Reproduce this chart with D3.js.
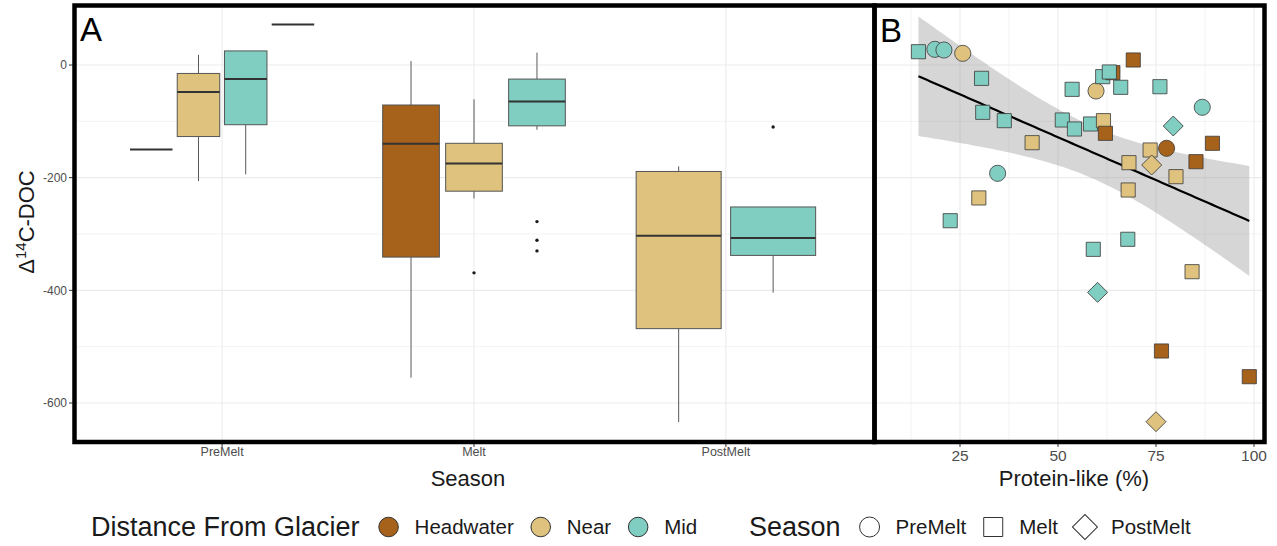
<!DOCTYPE html>
<html>
<head>
<meta charset="utf-8">
<script src="https://cdn.jsdelivr.net/npm/d3@7"></script>
<style>
  body { margin: 0; background: #fff; }
  svg { display: block; font-family: 'Liberation Sans', Arial, sans-serif; }
</style>
</head>
<body>
<svg id="chart" width="1277" height="546"></svg>
<script>
// ---- data ----
const seasons = ['PreMelt', 'Melt', 'PostMelt'];
const distances = ['Headwater', 'Near', 'Mid'];
const distColors = ['#a6611a', '#dfc27d', '#80cdc1'];

// panel A: boxplot stats
const boxSeason   = ['PreMelt', 'PreMelt', 'PreMelt', 'PreMelt', 'Melt', 'Melt', 'Melt', 'PostMelt', 'PostMelt'];
const boxDistance = ['Headwater', 'Near', 'Mid', 'NA', 'Headwater', 'Near', 'Mid', 'Near', 'Mid'];
const boxLow  = [-150, -206, -194, 72, -555, -237, -115, -634, -404];
const boxQ1   = [-150, -127, -106, 72, -341, -224, -108, -468, -338];
const boxMed  = [-150,  -48,  -25, 72, -140, -175,  -65, -303, -307];
const boxQ3   = [-150,  -15,   25, 72,  -71, -139,  -25, -189, -252];
const boxHigh = [-150,   18,   25, 72,    7,  -61,   22, -180, -252];
const outSeason   = ['Melt', 'Melt', 'Melt', 'Melt', 'PostMelt'];
const outDistance = ['Near', 'Mid', 'Mid', 'Mid', 'Mid'];
const outValue    = [-369, -278, -311, -330, -110];

// panel B: scatter
const ptProtein = [14.4, 18.6, 20.9, 25.7, 30.5, 30.8, 36.3, 43.4, 34.6, 29.8, 22.5, 51.1, 53.6, 54.2, 59.7,
                   61.4, 64.0, 63.1, 66.0, 69.2, 76.0, 58.3, 61.6, 62.1, 79.4, 86.8, 77.7, 73.5, 89.4, 85.2,
                   68.1, 73.9, 80.1, 67.9, 67.8, 59.0, 84.2, 60.1, 76.4, 98.8, 75.0];
const ptDOC     = [23.6, 27.8, 26.6, 20.7, -23.7, -84, -98.8, -137.9, -192.3, -236, -276.4, -97.6, -43.2, -113.6, -46.2,
                   -20.7, -13.6, -12.4, -39.6, 8.9, -38.5, -104.7, -98.8, -121.3, -108.3, -75.1, -147.9, -150.9, -139, -171.6,
                   -173.4, -177.5, -198.2, -221.9, -309.4, -327.2, -366.9, -403.6, -507.7, -553.3, -633.2];
const ptDistance = ['Mid', 'Mid', 'Mid', 'Near', 'Mid', 'Mid', 'Mid', 'Near', 'Mid', 'Near', 'Mid', 'Mid', 'Mid', 'Mid', 'Near',
                    'Mid', 'Headwater', 'Mid', 'Mid', 'Headwater', 'Mid', 'Mid', 'Near', 'Headwater', 'Mid', 'Mid', 'Headwater', 'Near', 'Headwater', 'Headwater',
                    'Near', 'Near', 'Near', 'Near', 'Mid', 'Mid', 'Near', 'Mid', 'Headwater', 'Headwater', 'Near'];
const ptSeason  = ['Melt', 'PreMelt', 'PreMelt', 'PreMelt', 'Melt', 'Melt', 'Melt', 'Melt', 'PreMelt', 'Melt', 'Melt', 'Melt', 'Melt', 'Melt', 'PreMelt',
                   'Melt', 'Melt', 'Melt', 'Melt', 'Melt', 'Melt', 'Melt', 'Melt', 'Melt', 'PostMelt', 'PreMelt', 'PreMelt', 'Melt', 'Melt', 'Melt',
                   'Melt', 'PostMelt', 'Melt', 'Melt', 'Melt', 'Melt', 'Melt', 'PostMelt', 'Melt', 'Melt', 'PostMelt'];

const yTicks = [0, -200, -400, -600];
const yMinor = [-100, -300, -500];
const xTicksB = [25, 50, 75, 100];
const xMinorB = [12.5, 37.5, 62.5, 87.5];

// ---- layout ----
const svg = d3.select('#chart');
const A = {x0: 76, x1: 872, y0: 7, y1: 440};
const B = {x0: 877, x1: 1262, y0: 7, y1: 440};
const gridCol = '#ebebeb', tickCol = '#4d4d4d';

const color = d3.scaleOrdinal().domain(distances.concat(['NA'])).range(distColors.concat(['#7f7f7f']));
const y = d3.scaleLinear().domain([0, -600]).range([65, 403]);
const xA = d3.scalePoint().domain(seasons).range([A.x0, A.x1]).padding(0.58);
const xB = d3.scaleLinear().domain([25, 100]).range([960, 1254]);

// gridlines
function hGrid(g, x0, x1) {
  g.selectAll('.ym').data(yMinor).join('line').attr('class', 'ym')
    .attr('x1', x0).attr('x2', x1).attr('y1', d => y(d)).attr('y2', d => y(d))
    .attr('stroke', gridCol).attr('stroke-width', 0.6);
  g.selectAll('.yM').data(yTicks).join('line').attr('class', 'yM')
    .attr('x1', x0).attr('x2', x1).attr('y1', d => y(d)).attr('y2', d => y(d))
    .attr('stroke', gridCol).attr('stroke-width', 1.1);
}
const gA = svg.append('g');
hGrid(gA, A.x0, A.x1);
gA.selectAll('.xM').data(seasons).join('line').attr('class', 'xM')
  .attr('x1', d => xA(d)).attr('x2', d => xA(d)).attr('y1', A.y0).attr('y2', A.y1)
  .attr('stroke', gridCol).attr('stroke-width', 1.1);

const gB = svg.append('g');
hGrid(gB, B.x0, B.x1);
gB.selectAll('.xm').data(xMinorB).join('line').attr('class', 'xm')
  .attr('x1', d => xB(d)).attr('x2', d => xB(d)).attr('y1', B.y0).attr('y2', B.y1)
  .attr('stroke', gridCol).attr('stroke-width', 0.6);
gB.selectAll('.xM').data(xTicksB).join('line').attr('class', 'xM')
  .attr('x1', d => xB(d)).attr('x2', d => xB(d)).attr('y1', B.y0).attr('y2', B.y1)
  .attr('stroke', gridCol).attr('stroke-width', 1.1);

// ---- panel A boxes ----
const step = xA.step();
const boxes = boxSeason.map((s, i) => ({
  season: s, dist: boxDistance[i], low: boxLow[i], q1: boxQ1[i], med: boxMed[i], q3: boxQ3[i], high: boxHigh[i]
}));
// dodge positions within each season
seasons.forEach(s => {
  const grp = boxes.filter(b => b.season === s);
  const slot = 0.75 * step / grp.length;
  grp.forEach((b, i) => {
    b.cx = xA(s) - 0.375 * step + slot * (i + 0.5);
    b.w = slot * 0.9;
  });
});
const boxG = svg.append('g').selectAll('g').data(boxes).join('g');
boxG.append('line')
  .attr('x1', d => d.cx).attr('x2', d => d.cx).attr('y1', d => y(d.high)).attr('y2', d => y(d.q3))
  .attr('stroke', '#5a5a5a').attr('stroke-width', 1);
boxG.append('line')
  .attr('x1', d => d.cx).attr('x2', d => d.cx).attr('y1', d => y(d.q1)).attr('y2', d => y(d.low))
  .attr('stroke', '#5a5a5a').attr('stroke-width', 1);
boxG.append('rect')
  .attr('x', d => d.cx - d.w / 2).attr('width', d => d.w)
  .attr('y', d => y(d.q3)).attr('height', d => y(d.q1) - y(d.q3))
  .attr('fill', d => color(d.dist)).attr('stroke', '#555').attr('stroke-width', 1);
boxG.append('line')
  .attr('x1', d => d.cx - d.w / 2).attr('x2', d => d.cx + d.w / 2).attr('y1', d => y(d.med)).attr('y2', d => y(d.med))
  .attr('stroke', '#333').attr('stroke-width', 2);

const outs = outValue.map((v, i) => {
  const b = boxes.find(bb => bb.season === outSeason[i] && bb.dist === outDistance[i]);
  return {cx: b.cx, v};
});
svg.append('g').selectAll('circle').data(outs).join('circle')
  .attr('cx', d => d.cx).attr('cy', d => y(d.v)).attr('r', 1.7).attr('fill', '#1a1a1a');

// ---- panel B regression with 95% CI ----
const n = ptProtein.length;
const mx = d3.mean(ptProtein), my = d3.mean(ptDOC);
let sxx = 0, sxy = 0;
for (let i = 0; i < n; i++) { sxx += (ptProtein[i] - mx) ** 2; sxy += (ptProtein[i] - mx) * (ptDOC[i] - my); }
const slope = sxy / sxx, icpt = my - slope * mx;
let sse = 0;
for (let i = 0; i < n; i++) sse += (ptDOC[i] - icpt - slope * ptProtein[i]) ** 2;
const sigma = Math.sqrt(sse / (n - 2));
const tq = 2.021;
const [xmin, xmax] = d3.extent(ptProtein);
const fitPts = d3.range(0, 81).map(k => {
  const xv = xmin + (xmax - xmin) * k / 80;
  const fit = icpt + slope * xv;
  const se = sigma * Math.sqrt(1 / n + (xv - mx) ** 2 / sxx);
  return {x: xv, fit, lo: fit - tq * se, hi: fit + tq * se};
});
svg.append('path').datum(fitPts)
  .attr('d', d3.area().x(d => xB(d.x)).y0(d => y(d.lo)).y1(d => y(d.hi)))
  .attr('fill', '#999').attr('fill-opacity', 0.4);
svg.append('path').datum(fitPts)
  .attr('d', d3.line().x(d => xB(d.x)).y(d => y(d.fit)))
  .attr('fill', 'none').attr('stroke', '#000').attr('stroke-width', 2.2);

// points (diamond = square turned 45 degrees, like ggplot shape 23)
const shapeOf = {PreMelt: d3.symbolCircle, Melt: d3.symbolSquare, PostMelt: d3.symbolSquare};
const rotOf = {PreMelt: 0, Melt: 0, PostMelt: 45};
const sizeOf = {PreMelt: 205, Melt: 200, PostMelt: 200};
const pts = ptProtein.map((p, i) => ({x: p, v: ptDOC[i], dist: ptDistance[i], season: ptSeason[i]}));
svg.append('g').selectAll('path').data(pts).join('path')
  .attr('transform', d => `translate(${xB(d.x)},${y(d.v)}) rotate(${rotOf[d.season]})`)
  .attr('d', d => d3.symbol().type(shapeOf[d.season]).size(sizeOf[d.season])())
  .attr('fill', d => color(d.dist)).attr('stroke', '#3a3a3a').attr('stroke-width', 0.8);

// ---- axes ----
const axA = svg.append('g');
axA.selectAll('.t').data(yTicks).join('line')
  .attr('x1', 69).attr('x2', 73).attr('y1', d => y(d)).attr('y2', d => y(d)).attr('stroke', '#333');
axA.selectAll('.l').data(yTicks).join('text')
  .attr('x', 67).attr('y', d => y(d)).attr('dy', '0.35em').attr('text-anchor', 'end')
  .attr('font-size', 12).attr('fill', tickCol).text(d => String(d));
axA.selectAll('.xt').data(seasons).join('line')
  .attr('x1', d => xA(d)).attr('x2', d => xA(d)).attr('y1', 443).attr('y2', 447).attr('stroke', '#333');
axA.selectAll('.xl').data(seasons).join('text')
  .attr('x', d => xA(d)).attr('y', 456).attr('text-anchor', 'middle')
  .attr('font-size', 12.5).attr('fill', tickCol).text(d => d);

const axB = svg.append('g');
axB.selectAll('.xt').data(xTicksB).join('line')
  .attr('x1', d => xB(d)).attr('x2', d => xB(d)).attr('y1', 443).attr('y2', 447).attr('stroke', '#333');
axB.selectAll('.xl').data(xTicksB).join('text')
  .attr('x', d => xB(d)).attr('y', 461).attr('text-anchor', 'middle')
  .attr('font-size', 15.5).attr('fill', tickCol).text(d => d);

// axis titles
const yt = svg.append('text').attr('transform', 'translate(34,222) rotate(-90)')
  .attr('text-anchor', 'middle').attr('font-size', 22).attr('fill', '#1a1a1a');
yt.append('tspan').text('Δ');
yt.append('tspan').attr('font-size', 15).attr('dy', -8).text('14');
yt.append('tspan').attr('dy', 8).text('C-DOC');
svg.append('text').attr('x', 468).attr('y', 486).attr('text-anchor', 'middle')
  .attr('font-size', 22).attr('fill', '#1a1a1a').text('Season');
svg.append('text').attr('x', 1074).attr('y', 486).attr('text-anchor', 'middle')
  .attr('font-size', 22).attr('fill', '#1a1a1a').text('Protein-like (%)');

// panel tags
svg.append('text').attr('x', 80).attr('y', 41).attr('font-size', 33).attr('fill', '#000').text('A');
svg.append('text').attr('x', 880).attr('y', 42).attr('font-size', 33).attr('fill', '#000').text('B');

// frames
svg.append('rect').attr('x', 74.5).attr('y', 5.5).attr('width', 800).attr('height', 436.5)
  .attr('fill', 'none').attr('stroke', '#000').attr('stroke-width', 4.5);
svg.append('rect').attr('x', 874.5).attr('y', 5.5).attr('width', 390).attr('height', 436.5)
  .attr('fill', 'none').attr('stroke', '#000').attr('stroke-width', 4.5);

// ---- legend ----
const leg = svg.append('g');
let cx = 91;
const ly = 527;
function legTitle(t) {
  const el = leg.append('text').attr('x', cx).attr('y', ly).attr('dy', '0.35em')
    .attr('font-size', 27).attr('fill', '#1a1a1a').text(t);
  cx += el.node().getComputedTextLength() + 19;
}
function legItem(type, size, rot, fill, label) {
  leg.append('path').attr('transform', `translate(${cx + 10},${ly}) rotate(${rot})`)
    .attr('d', d3.symbol().type(type).size(size)())
    .attr('fill', fill).attr('stroke', '#333').attr('stroke-width', 1);
  cx += 20 + 16;
  const el = leg.append('text').attr('x', cx).attr('y', ly).attr('dy', '0.35em')
    .attr('font-size', 20.5).attr('fill', '#1a1a1a').text(label);
  cx += el.node().getComputedTextLength() + 17;
}
legTitle('Distance From Glacier');
distances.forEach((d, i) => legItem(d3.symbolCircle, 300, 0, distColors[i], d));
cx = 749;
legTitle('Season');
seasons.forEach(s => legItem(shapeOf[s], s === 'PostMelt' ? 312 : (s === 'Melt' ? 361 : 314), rotOf[s], 'none', s));
</script>
</body>
</html>
